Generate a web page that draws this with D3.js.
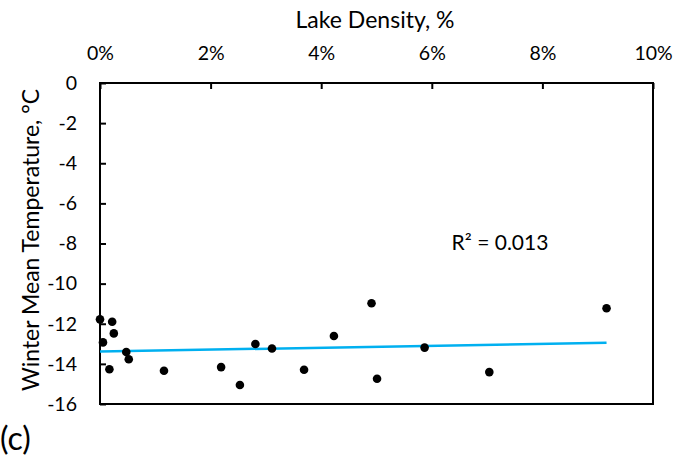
<!DOCTYPE html>
<html>
<head>
<meta charset="utf-8">
<script src="https://cdn.jsdelivr.net/npm/d3@7"></script>
<style>
  body { margin: 0; background: #fff; }
  svg text { font-family: Lato, "Open Sans", sans-serif; fill: #000; }
</style>
</head>
<body>
<svg id="chart" width="694" height="468"></svg>
<script>
// lake density (%) and winter mean temperature (°C)
var lakeDensity = [0, 0.054, 0.22, 0.25, 0.17, 0.475, 0.52, 1.157, 2.19, 2.53,
                   2.81, 3.11, 3.69, 4.23, 4.91, 5.01, 5.87, 7.04, 9.16];
var winterTemp = [-11.78, -12.93, -11.9, -12.48, -14.27, -13.41, -13.77, -14.34, -14.16, -15.05,
                  -13.01, -13.23, -14.29, -12.61, -10.98, -14.74, -13.19, -14.41, -11.23];
var xTicks = [0, 2, 4, 6, 8, 10];
var yTicks = [0, -2, -4, -6, -8, -10, -12, -14, -16];
var rSquaredLabel = "R² = 0.013";

var svg = d3.select("#chart");

var x = d3.scaleLinear().domain([0, 10]).range([100, 653]);
var y = d3.scaleLinear().domain([-16, 0]).range([404, 83]);

// Plot frame
svg.append("rect")
    .attr("x", x(0)).attr("y", y(0))
    .attr("width", x(10) - x(0)).attr("height", y(-16) - y(0))
    .attr("fill", "none").attr("stroke", "#000").attr("stroke-width", 2);

// Top axis, ticks pointing into the plot
var xAxis = d3.axisTop(x).tickValues(xTicks)
    .tickSize(-6).tickPadding(23)
    .tickFormat(function(d) { return d + "%"; });
var gx = svg.append("g").attr("transform", "translate(0," + y(0) + ")").call(xAxis);
gx.select(".domain").remove();
gx.selectAll(".tick line").attr("stroke", "#000").attr("stroke-width", 2);
gx.selectAll(".tick text").style("font-size", "19.5px").attr("font-family", null);

// Left axis, ticks pointing into the plot (plain hyphen for minus, as in the original)
var yAxis = d3.axisLeft(y).tickValues(yTicks).tickSize(-6).tickPadding(23)
    .tickFormat(function(d) { return String(d); });
var gy = svg.append("g").attr("transform", "translate(" + x(0) + ",0)").call(yAxis);
gy.select(".domain").remove();
gy.selectAll(".tick line").attr("stroke", "#000").attr("stroke-width", 2);
gy.selectAll(".tick text").style("font-size", "19.5px").attr("font-family", null);

// Linear trend (least squares)
var n = lakeDensity.length;
var mx = d3.mean(lakeDensity), my = d3.mean(winterTemp);
var sxy = 0, sxx = 0;
for (var i = 0; i < n; i++) {
    sxy += (lakeDensity[i] - mx) * (winterTemp[i] - my);
    sxx += (lakeDensity[i] - mx) * (lakeDensity[i] - mx);
}
var slope = sxy / sxx;
var icpt = my - slope * mx;
var xMin = d3.min(lakeDensity), xMax = d3.max(lakeDensity);
svg.append("line")
    .attr("x1", x(xMin)).attr("y1", y(icpt + slope * xMin))
    .attr("x2", x(xMax)).attr("y2", y(icpt + slope * xMax))
    .attr("stroke", "#00B0F0").attr("stroke-width", 2.5);

// Points
svg.selectAll("circle.pt").data(lakeDensity).enter().append("circle")
    .attr("class", "pt")
    .attr("cx", function(d) { return x(d); })
    .attr("cy", function(d, i) { return y(winterTemp[i]); })
    .attr("r", 4.3)
    .attr("fill", "#000");

// Labels
svg.append("text").attr("x", 375).attr("y", 28)
    .attr("text-anchor", "middle").style("font-size", "23px")
    .text("Lake Density, %");

svg.append("text")
    .attr("transform", "translate(39,240) rotate(-90)")
    .attr("text-anchor", "middle").style("font-size", "23px")
    .text("Winter Mean Temperature, °C");

svg.append("text").attr("x", 500).attr("y", 250)
    .attr("text-anchor", "middle").style("font-size", "21px")
    .text(rSquaredLabel);

svg.append("text").attr("x", 0).attr("y", 450)
    .style("font-size", "32px")
    .text("(c)");
</script>
</body>
</html>
